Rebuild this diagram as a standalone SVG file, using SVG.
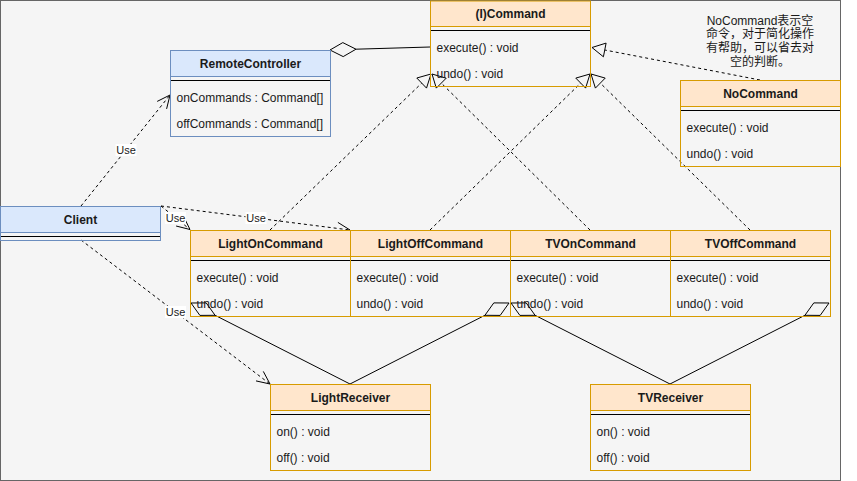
<svg xmlns="http://www.w3.org/2000/svg" width="857" height="481" viewBox="0 0 857 481">
<defs>
<style>
.bg{fill:#f5f5f5;stroke:#666666;stroke-width:1}
.ho{fill:#ffe6cc;stroke:#d79b00;stroke-width:1}
.bo{fill:none;stroke:#d79b00;stroke-width:1}
.hb{fill:#dae8fc;stroke:#6c8ebf;stroke-width:1}
.bb{fill:none;stroke:#6c8ebf;stroke-width:1}
.sep{stroke:#000000;stroke-width:1}
.t{font-family:"Liberation Sans",Arial,sans-serif;font-size:12px;fill:#1a1a1a}
.tt{font-family:"Liberation Sans",Arial,sans-serif;font-size:12px;font-weight:bold;fill:#1a1a1a;text-anchor:middle}
.note{font-family:"Liberation Sans","Noto Sans CJK SC",sans-serif;font-size:12px;fill:#1a1a1a;text-anchor:middle}
.lbl{font-family:"Liberation Sans",Arial,sans-serif;font-size:11px;fill:#1a1a1a;text-anchor:middle}
.lbg{fill:#ffffff;stroke:none}
.dash{fill:none;stroke:#000000;stroke-width:1;stroke-dasharray:3 3}
.solid{fill:none;stroke:#000000;stroke-width:1}
.head{fill:#f5f5f5;stroke:#000000;stroke-width:1}
.open{fill:none;stroke:#000000;stroke-width:1}
</style>
</defs>
<rect class="bg" x="0.5" y="0.5" width="840" height="480"/>

<g id="connectors">
  <!-- aggregation RemoteController - Command -->
  <path class="solid" d="M356,49.2 L430,47"/>
  <polygon class="head" points="330,50 343.2,56.6 356,49.2 342.8,42.6"/>
  <!-- realizations -->
  <path class="dash" d="M270,230 L421.7,83.1"/>
  <polygon class="head" points="431,74 426.5,88.1 416.8,78"/>
  <path class="dash" d="M590,230 L441.3,83.1"/>
  <polygon class="head" points="432,74 446.2,78.2 436.3,88.1"/>
  <path class="dash" d="M430,230 L580.7,83.1"/>
  <polygon class="head" points="590,74 585.6,88.1 575.8,78.1"/>
  <path class="dash" d="M750,230 L600.3,83.1"/>
  <polygon class="head" points="591,74 605.2,78.1 595.4,88.1"/>
  <path class="dash" d="M760,80 L604.8,50"/>
  <polygon class="head" points="592,47.5 606.1,43.1 603.4,56.8"/>
  <!-- dependencies (Use) -->
  <path class="dash" d="M81,206 L170,95"/>
  <path class="open" d="M166.6,108.9 L170,95 L157.2,101.4"/>
  <path class="dash" d="M161,206 L190,229.5"/>
  <path class="open" d="M176.1,226 L190,229.5 L183.7,216.7"/>
  <path class="dash" d="M161,206 L350,230"/>
  <path class="open" d="M336.3,234.3 L350,230 L337.9,222.4"/>
  <path class="dash" d="M81,240 L270,384"/>
  <path class="open" d="M256,380.9 L270,384 L263.3,371.4"/>
  <!-- aggregations commands - receivers -->
  <path class="solid" d="M215.1,315.3 L350,384"/>
  <polygon class="head" points="191,303 199.9,315.4 215.1,315.3 206.2,302.9"/>
  <path class="solid" d="M484.9,315.3 L350,384"/>
  <polygon class="head" points="509,303 493.8,302.9 484.9,315.3 500.2,315.4"/>
  <path class="solid" d="M535.1,315.3 L670,384"/>
  <polygon class="head" points="511,303 519.9,315.4 535.1,315.3 526.2,302.9"/>
  <path class="solid" d="M804.9,315.3 L670,384"/>
  <polygon class="head" points="829,303 813.8,302.9 804.9,315.3 820.2,315.4"/>
  <!-- labels -->
  <rect class="lbg" x="115.5" y="144" width="21" height="12"/>
  <text class="lbl" x="126" y="154">Use</text>
  <rect class="lbg" x="165" y="212" width="21" height="12"/>
  <text class="lbl" x="175.5" y="222">Use</text>
  <rect class="lbg" x="245.5" y="212" width="21" height="12"/>
  <text class="lbl" x="256" y="222">Use</text>
  <rect class="lbg" x="165" y="306" width="21" height="12"/>
  <text class="lbl" x="175.5" y="316">Use</text>
</g>

<g id="command">
  <rect class="ho" x="430.5" y="1" width="160" height="25.5"/>
  <rect class="bo" x="430.5" y="26.5" width="160" height="60"/>
  <line class="sep" x1="431" y1="30.5" x2="590" y2="30.5"/>
  <text class="tt" x="510.5" y="17.5">(I)Command</text>
  <text class="t" x="436.5" y="51.5">execute() : void</text>
  <text class="t" x="436.5" y="77.5">undo() : void</text>
</g>

<g id="remote-controller">
  <rect class="hb" x="170.5" y="50.5" width="160" height="26"/>
  <rect class="bb" x="170.5" y="76.5" width="160" height="60"/>
  <line class="sep" x1="171" y1="80.5" x2="330" y2="80.5"/>
  <text class="tt" x="250.5" y="67.5">RemoteController</text>
  <text class="t" x="176.5" y="101.5">onCommands : Command[]</text>
  <text class="t" x="176.5" y="127.5">offCommands : Command[]</text>
</g>

<g id="no-command">
  <rect class="ho" x="680.5" y="80.5" width="160" height="26"/>
  <rect class="bo" x="680.5" y="106.5" width="160" height="60"/>
  <line class="sep" x1="681" y1="110.5" x2="840" y2="110.5"/>
  <text class="tt" x="760.5" y="97.5">NoCommand</text>
  <text class="t" x="686.5" y="131.5">execute() : void</text>
  <text class="t" x="686.5" y="157.5">undo() : void</text>
</g>

<g id="note">
  <text class="note" x="760" y="24.5">NoCommand表示空</text>
  <text class="note" x="760" y="38.2">命令，对于简化操作</text>
  <text class="note" x="760" y="51.9">有帮助，可以省去对</text>
  <text class="note" x="760" y="65.6">空的判断。</text>
</g>

<g id="client">
  <rect class="hb" x="0.5" y="206.5" width="160" height="26"/>
  <rect class="bb" x="0.5" y="232.5" width="160" height="8"/>
  <line class="sep" x1="1" y1="236.5" x2="160" y2="236.5"/>
  <text class="tt" x="80.5" y="223.5">Client</text>
</g>

<g id="light-on-command">
  <rect class="ho" x="190.5" y="230.5" width="160" height="26"/>
  <rect class="bo" x="190.5" y="256.5" width="160" height="60"/>
  <line class="sep" x1="191" y1="260.5" x2="350" y2="260.5"/>
  <text class="tt" x="270.5" y="247.5">LightOnCommand</text>
  <text class="t" x="196.5" y="281.5">execute() : void</text>
  <text class="t" x="196.5" y="307.5">undo() : void</text>
</g>

<g id="light-off-command">
  <rect class="ho" x="350.5" y="230.5" width="160" height="26"/>
  <rect class="bo" x="350.5" y="256.5" width="160" height="60"/>
  <line class="sep" x1="351" y1="260.5" x2="510" y2="260.5"/>
  <text class="tt" x="430.5" y="247.5">LightOffCommand</text>
  <text class="t" x="356.5" y="281.5">execute() : void</text>
  <text class="t" x="356.5" y="307.5">undo() : void</text>
</g>

<g id="tv-on-command">
  <rect class="ho" x="510.5" y="230.5" width="160" height="26"/>
  <rect class="bo" x="510.5" y="256.5" width="160" height="60"/>
  <line class="sep" x1="511" y1="260.5" x2="670" y2="260.5"/>
  <text class="tt" x="590.5" y="247.5">TVOnCommand</text>
  <text class="t" x="516.5" y="281.5">execute() : void</text>
  <text class="t" x="516.5" y="307.5">undo() : void</text>
</g>

<g id="tv-off-command">
  <rect class="ho" x="670.5" y="230.5" width="160" height="26"/>
  <rect class="bo" x="670.5" y="256.5" width="160" height="60"/>
  <line class="sep" x1="671" y1="260.5" x2="830" y2="260.5"/>
  <text class="tt" x="750.5" y="247.5">TVOffCommand</text>
  <text class="t" x="676.5" y="281.5">execute() : void</text>
  <text class="t" x="676.5" y="307.5">undo() : void</text>
</g>

<g id="light-receiver">
  <rect class="ho" x="270.5" y="384.5" width="160" height="26"/>
  <rect class="bo" x="270.5" y="410.5" width="160" height="60"/>
  <line class="sep" x1="271" y1="414.5" x2="430" y2="414.5"/>
  <text class="tt" x="350.5" y="401.5">LightReceiver</text>
  <text class="t" x="276.5" y="435.5">on() : void</text>
  <text class="t" x="276.5" y="461.5">off() : void</text>
</g>

<g id="tv-receiver">
  <rect class="ho" x="590.5" y="384.5" width="160" height="26"/>
  <rect class="bo" x="590.5" y="410.5" width="160" height="60"/>
  <line class="sep" x1="591" y1="414.5" x2="750" y2="414.5"/>
  <text class="tt" x="670.5" y="401.5">TVReceiver</text>
  <text class="t" x="596.5" y="435.5">on() : void</text>
  <text class="t" x="596.5" y="461.5">off() : void</text>
</g>
</svg>
